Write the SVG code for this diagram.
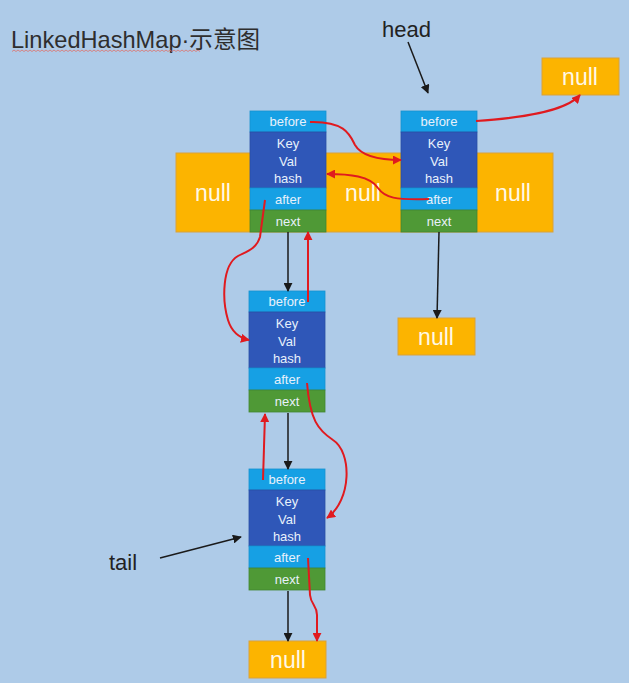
<svg xmlns="http://www.w3.org/2000/svg" width="629" height="683" viewBox="0 0 629 683">
<defs>
<style>
.lbl{font-family:"Liberation Sans","Noto Sans",sans-serif;font-size:13px;fill:#e8f1fb;text-anchor:middle}
.nul{font-family:"Liberation Sans","Noto Sans",sans-serif;font-size:23px;fill:#fff8e6;text-anchor:middle}
.big{font-family:"Liberation Sans","Noto Sans",sans-serif;font-size:22px;fill:#222}
.b{fill:#16a0e4;stroke:#1592d0;stroke-width:0.8}
.k{fill:#2f57b8;stroke:#2a4ea5;stroke-width:0.8}
.n{fill:#4f9936;stroke:#438530;stroke-width:0.8}
.o{fill:#fcb400;stroke:#d9a23a;stroke-width:1}
.red{fill:none;stroke:#e01a1f;stroke-width:2}
.blk{fill:none;stroke:#1a1a1a;stroke-width:1.5}
</style>
<marker id="arL" viewBox="0 0 10 10" refX="9" refY="5" markerWidth="9" markerHeight="9" orient="auto" markerUnits="userSpaceOnUse"><path d="M0,0 L10,5 L0,10 z" fill="#e01a1f"/></marker>
<marker id="abL" viewBox="0 0 10 10" refX="9" refY="5" markerWidth="9" markerHeight="9" orient="auto" markerUnits="userSpaceOnUse"><path d="M0,0 L10,5 L0,10 z" fill="#1a1a1a"/></marker>
<g id="entry">
<rect class="b" x="0" y="0" width="76" height="21"/>
<rect class="k" x="0" y="21" width="76" height="56"/>
<rect class="b" x="0" y="77" width="76" height="22"/>
<rect class="n" x="0" y="99" width="76" height="22"/>
<text class="lbl" x="38" y="15">before</text>
<text class="lbl" x="38" y="37">Key</text>
<text class="lbl" x="38" y="55">Val</text>
<text class="lbl" x="38" y="72">hash</text>
<text class="lbl" x="38" y="93">after</text>
<text class="lbl" x="38" y="115">next</text>
</g>
</defs>
<rect width="629" height="683" fill="#aecbe8"/>

<g id="title">
<text x="11" y="48" font-family="'Liberation Sans','Noto Sans CJK SC',sans-serif" font-size="23.6" fill="#2e2e2e">LinkedHashMap·示意图</text>
<path d="M12,51.5 l2,-1.5 l2,1.5 l2,-1.5 l2,1.5 l2,-1.5 l2,1.5 l2,-1.5 l2,1.5 l2,-1.5 l2,1.5 l2,-1.5 l2,1.5 l2,-1.5 l2,1.5 l2,-1.5 l2,1.5 l2,-1.5 l2,1.5 l2,-1.5 l2,1.5 l2,-1.5 l2,1.5 l2,-1.5 l2,1.5 l2,-1.5 l2,1.5 l2,-1.5 l2,1.5 l2,-1.5 l2,1.5 l2,-1.5 l2,1.5 l2,-1.5 l2,1.5 l2,-1.5 l2,1.5 l2,-1.5 l2,1.5 l2,-1.5 l2,1.5 l2,-1.5 l2,1.5 l2,-1.5 l2,1.5 l2,-1.5 l2,1.5 l2,-1.5 l2,1.5 l2,-1.5 l2,1.5 l2,-1.5 l2,1.5 l2,-1.5 l2,1.5 l2,-1.5 l2,1.5 l2,-1.5 l2,1.5 l2,-1.5 l2,1.5 l2,-1.5 l2,1.5 l2,-1.5 l2,1.5 l2,-1.5 l2,1.5 l2,-1.5 l2,1.5 l2,-1.5 l2,1.5 l2,-1.5 l2,1.5 l2,-1.5 l2,1.5 l2,-1.5 l2,1.5 l2,-1.5 l2,1.5 l2,-1.5 l2,1.5 l2,-1.5 l2,1.5 l2,-1.5 l2,1.5 l2,-1.5 l2,1.5 l2,-1.5 l2,1.5 l2,-1.5 l2,1.5 l2,-1.5 l2,1.5 l2,-1.5 l2,1.5" fill="none" stroke="#e0706a" stroke-width="0.8"/>
</g>

<g id="head-label"><text class="big" x="382" y="37">head</text></g>
<g id="tail-label"><text class="big" x="109" y="570">tail</text></g>

<g id="bucket-array">
<rect class="o" x="176" y="153" width="377" height="79"/>
<text class="nul" x="213" y="201">null</text>
<text class="nul" x="363" y="201">null</text>
<text class="nul" x="513" y="201">null</text>
</g>

<g id="null-top-right"><rect class="o" x="542" y="58" width="77" height="37"/><text class="nul" x="580" y="85">null</text></g>
<g id="null-head-next"><rect class="o" x="398" y="318" width="77" height="37"/><text class="nul" x="436" y="345">null</text></g>
<g id="null-bottom"><rect class="o" x="249" y="641" width="77" height="37"/><text class="nul" x="288" y="668">null</text></g>

<g id="node1"><use href="#entry" x="250" y="111"/></g>
<g id="node2"><use href="#entry" x="401" y="111"/></g>
<g id="node3"><use href="#entry" x="249" y="291"/></g>
<g id="node4"><use href="#entry" x="249" y="469"/></g>

<g id="connectors">
<path class="blk" d="M408,42 L428,93" marker-end="url(#abL)"/>
<path class="blk" d="M160,558 L241,537" marker-end="url(#abL)"/>
<path class="blk" d="M288,232 L288,291" marker-end="url(#abL)"/>
<path class="blk" d="M288,413 L288,469" marker-end="url(#abL)"/>
<path class="blk" d="M288,591 L288,641" marker-end="url(#abL)"/>
<path class="blk" d="M439,232 L437,318" marker-end="url(#abL)"/>

<path class="red" d="M476,121 C520,118 565,112 580,95" marker-end="url(#arL)"/>
<path class="red" d="M310,122 C345,121 350,135 355,145 C362,157 380,160 401,160" marker-end="url(#arL)"/>
<path class="red" d="M429,199 C395,200 385,198 378,188 C370,176 350,174 327,174" marker-end="url(#arL)"/>
<path class="red" d="M265,200 L260,237 C256,250 245,252 238,256 C222,265 222,300 228,320 C232,333 240,338 249,340" marker-end="url(#arL)"/>
<path class="red" d="M308,302 L308,232" marker-end="url(#arL)"/>
<path class="red" d="M307,383 C310,420 318,430 333,440 C352,452 352,500 327,518" marker-end="url(#arL)"/>
<path class="red" d="M263,480 L265,414" marker-end="url(#arL)"/>
<path class="red" d="M308,558 L310,595 C311,605 317,605 317,615 L317,641" marker-end="url(#arL)"/>
</g>
</svg>
